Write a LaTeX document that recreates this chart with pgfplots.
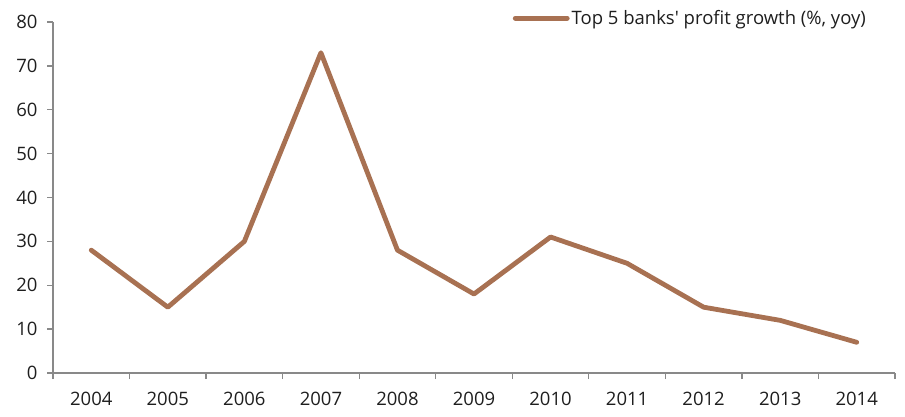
\documentclass[border=0pt]{standalone}
\usepackage{fontspec}
\setmainfont{Open Sans}
\usepackage{pgfplots}
\pgfplotsset{compat=1.18}
\definecolor{brownline}{RGB}{168,113,82}
\definecolor{axisgrey}{RGB}{137,137,137}
\definecolor{txt}{RGB}{30,30,30}
\begin{document}
\begin{tikzpicture}[x=1pt,y=1pt]
\useasboundingbox (-53pt,-43pt) rectangle (852pt,373pt);
\begin{axis}[
  at={(0pt,0pt)}, anchor=south west,
  scale only axis, width=842pt, height=351pt,
  xmin=-0.5, xmax=10.5, ymin=0, ymax=80,
  axis x line=bottom, axis y line=left,
  axis line style={-, axisgrey, line width=1.3pt},
  xtick={0,...,10},
  xticklabels={2004,2005,2006,2007,2008,2009,2010,2011,2012,2013,2014},
  minor xtick={-0.5,0.5,...,10.5},
  ytick={0,10,...,80},
  tick align=outside,
  major tick length=6pt,
  minor tick length=6pt,
  x tick style={draw=none},
  minor x tick style={draw=axisgrey, line width=1.3pt},
  y tick style={draw=axisgrey, line width=1.3pt},
  tick label style={font=\fontsize{18.5}{22}\selectfont, text=txt},
  xticklabel style={yshift=-10pt},
  yticklabel style={xshift=-6pt},
  /pgf/number format/assume math mode=true,
  legend style={draw=none, fill=none, at={(axis description cs:0.968,1.011)}, anchor=east,
    font=\fontsize{18.5}{22}\selectfont, text=txt, inner sep=0pt},
  legend cell align=left,
  legend image code/.code={\draw[#1, line cap=round] (0pt,0pt) -- (52pt,0pt);},
  clip=false,
]
\addplot[brownline, line width=4.8pt, line cap=round, line join=round] coordinates {
(0,28) (1,15) (2,30) (3,73) (4,28) (5,18) (6,31) (7,25) (8,15) (9,12) (10,7)
};
\addlegendentry{Top 5 banks\textquotesingle{} profit growth (\%, yoy)}
\end{axis}
\end{tikzpicture}
\end{document}
